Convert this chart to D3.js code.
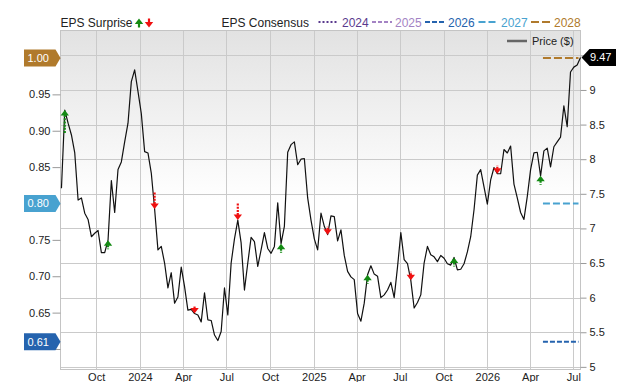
<!DOCTYPE html>
<html><head><meta charset="utf-8">
<script src="https://cdn.jsdelivr.net/npm/d3@7"></script>
<style>
body{margin:0;background:#fff;}
svg{display:block;font-family:"Liberation Sans",Arial,Helvetica,sans-serif;}
</style>
</head><body>
<svg id="chart" width="640" height="382"></svg>
<script>
// ---------- data ----------
const firstWeek = "2023-07-20";
const prices = [
 7.58, 8.71, 8.52, 8.35, 8.09, 7.41, 7.44, 7.22, 7.13, 6.88,
 6.93, 6.97, 6.65, 6.65, 6.83, 7.69, 7.23, 7.85, 7.96, 8.25,
 8.52, 9.12, 9.29, 8.98, 8.66, 8.11, 8.09, 7.80, 7.28, 6.69,
 6.74, 6.50, 6.14, 6.36, 5.92, 6.01, 6.44, 6.16, 5.82, 5.83,
 5.77, 5.75, 5.65, 6.07, 5.68, 5.67, 5.46, 5.38, 5.51, 6.14,
 5.75, 6.50, 6.85, 7.12, 6.79, 6.11, 6.50, 6.87, 6.81, 6.45,
 6.69, 6.94, 6.71, 6.64, 6.74, 7.37, 6.78, 7.03, 8.10, 8.21,
 8.25, 7.92, 8.00, 8.01, 7.44, 7.12, 6.85, 6.69, 7.22, 7.03,
 6.91, 7.18, 7.17, 6.82, 6.98, 6.61, 6.38, 6.30, 6.26, 5.77,
 5.66, 5.92, 6.33, 6.46, 6.34, 6.31, 6.00, 6.04, 6.11, 6.22,
 6.00, 6.44, 6.94, 6.55, 6.49, 6.25, 5.85, 5.93, 6.04, 6.50,
 6.74, 6.62, 6.59, 6.52, 6.61, 6.57, 6.49, 6.47, 6.58, 6.40,
 6.41, 6.49, 6.66, 6.88, 7.27, 7.77, 7.85, 7.60, 7.35, 7.70,
 7.88, 7.79, 7.79, 8.14, 8.09, 8.19, 7.64, 7.44, 7.23, 7.13,
 7.46, 7.85, 8.09, 8.10, 7.76, 8.12, 8.16, 7.89, 8.18, 8.25,
 8.32, 8.77, 8.47, 9.26, 9.33, 9.36, 9.47
];
const surpriseDates = ["2023-07-27","2023-10-26","2024-02-01","2024-04-25","2024-07-25","2024-10-24",
                       "2025-01-30","2025-04-24","2025-07-24","2025-10-23","2026-01-22","2026-04-23"];
const surpriseDir   = ["beat","beat","miss","miss","miss","beat","miss","beat","miss","beat","miss","beat"];
const surpriseSize  = [36, 7, 24, 5, 22, 7, 6, 7, 6, 7, 6, 7];

const consensusYears  = ["2024","2025","2026","2027","2028"];
const consensusColors = ["#5a3a8e","#a483c4","#2563ae","#48a2d0","#b07a2c"];
const consensusDash   = ["2,2","4,2","5,2","7,3","8,3"];
const consensusValues = [null, null, 0.61, 0.80, 1.00];
const consensusFrom   = "2026-04-28";

const priceTicks = [5, 5.5, 6, 6.5, 7, 7.5, 8, 8.5, 9, 9.5];
const priceLabels = [5, 5.5, 6, 6.5, 7, 7.5, 8, 8.5, 9];
const epsTicks   = [0.60, 0.65, 0.70, 0.75, 0.80, 0.85, 0.90, 0.95, 1.00];
const epsLabels  = [0.65, 0.70, 0.75, 0.85, 0.90, 0.95];
const lastPriceLabel = "9.47";

// ---------- layout ----------
const L = 60.5, R = 580.5, T = 30.5, B = 369.5;
const svg = d3.select("#chart");
const parse = d3.utcParse("%Y-%m-%d");
const dates = prices.map((p, i) => d3.utcDay.offset(parse(firstWeek), 7 * i));
const series = prices.map((p, i) => ({date: dates[i], price: p}));

const x = d3.scaleUtc().domain([parse("2023-07-18"), dates[dates.length - 1]]).range([L, R]);
const yP = d3.scaleLinear().domain([4.962, 9.859]).range([B, T]);
const yE = d3.scaleLinear().domain([0.5718, 1.0378]).range([B, T]);

// background gradient
const defs = svg.append("defs");
const g = defs.append("linearGradient").attr("id", "bg").attr("x1", 0).attr("x2", 0).attr("y1", 0).attr("y2", 1);
g.append("stop").attr("offset", "0%").attr("stop-color", "#e2e2e2");
g.append("stop").attr("offset", "50%").attr("stop-color", "#ffffff");
g.append("stop").attr("offset", "100%").attr("stop-color", "#ffffff");
svg.append("rect").attr("x", L).attr("y", T).attr("width", R - L).attr("height", B - T).attr("fill", "url(#bg)");

// grid
const monthTicks = x.ticks(d3.utcMonth.every(3));
svg.append("g").selectAll("line").data(priceTicks).join("line")
  .attr("x1", L).attr("x2", R).attr("y1", d => Math.round(yP(d)) + 0.5).attr("y2", d => Math.round(yP(d)) + 0.5)
  .attr("stroke", "#cacaca").attr("stroke-width", 1);
svg.append("g").selectAll("line").data(monthTicks).join("line")
  .attr("x1", d => Math.round(x(d)) + 0.5).attr("x2", d => Math.round(x(d)) + 0.5).attr("y1", T).attr("y2", B)
  .attr("stroke", "#cacaca").attr("stroke-width", 1);
svg.append("rect").attr("x", L).attr("y", T).attr("width", R - L).attr("height", B - T)
  .attr("fill", "none").attr("stroke", "#c4c4c4");

// axes
const fmtX = d => d.getUTCMonth() === 0 ? d3.utcFormat("%Y")(d) : d3.utcFormat("%b")(d);
const xAxis = svg.append("g").attr("transform", `translate(0,${B})`)
  .call(d3.axisBottom(x).tickValues(monthTicks).tickFormat(fmtX).tickSize(0).tickPadding(3.5));
const yR = svg.append("g").attr("transform", `translate(${R},0)`)
  .call(d3.axisRight(yP).tickValues(priceTicks).tickFormat(d => priceLabels.includes(d) ? d3.format("")(d) : "").tickSize(6).tickPadding(3));
const yL = svg.append("g").attr("transform", `translate(${L},0)`)
  .call(d3.axisLeft(yE).tickValues(epsTicks).tickFormat(d => epsLabels.some(v => Math.abs(v - d) < 1e-9) ? d3.format(".2f")(d) : "").tickSize(8).tickPadding(2));
[xAxis, yR, yL].forEach(a => {
  a.select(".domain").remove();
  a.selectAll("text").attr("fill", "#222").style("font-size", "11px").style("font-family", "Liberation Sans, Arial, sans-serif");
  a.selectAll(".tick line").attr("stroke", "#9a9a9a");
});

// consensus lines
consensusValues.forEach((v, k) => {
  if (v === null) return;
  svg.append("line").attr("x1", x(parse(consensusFrom))).attr("x2", R - 2)
    .attr("y1", yE(v)).attr("y2", yE(v))
    .attr("stroke", consensusColors[k]).attr("stroke-width", 2).attr("stroke-dasharray", consensusDash[k]);
});

// price line
svg.append("path").datum(series)
  .attr("d", d3.line().x(d => x(d.date)).y(d => yP(d.price)))
  .attr("fill", "none").attr("stroke", "#111").attr("stroke-width", 1.2).attr("stroke-linejoin", "round");

// surprise arrows
const bis = d3.bisector(d => d.date).center;
function arrow(gsel, cx, tipY, dir, stem, color, dash) {
  const s = dir === "beat" ? 1 : -1;      // beat: arrow points up, sits below tip
  const hh = 5.5, hw = 4.2;
  gsel.append("path")
    .attr("d", `M${cx},${tipY} L${cx - hw},${tipY + s * hh} L${cx + hw},${tipY + s * hh} Z`)
    .attr("fill", color);
  gsel.append("line").attr("x1", cx).attr("x2", cx)
    .attr("y1", tipY + s * (hh - 0.5)).attr("y2", tipY + s * (hh + stem))
    .attr("stroke", color).attr("stroke-width", 2.2).attr("stroke-dasharray", dash);
}
const ga = svg.append("g");
surpriseDates.forEach((ds, k) => {
  const d = series[bis(series, parse(ds))];
  const col = surpriseDir[k] === "beat" ? "#138a13" : "#f01010";
  arrow(ga, x(d.date), yP(d.price), surpriseDir[k], surpriseSize[k] / 2, col, "2,1.2");
});

// left value tags
function leftTag(v, color, label) {
  const c = yE(v);
  svg.append("path").attr("d", `M24,${c - 8.5} L55.5,${c - 8.5} L60.5,${c} L55.5,${c + 8.5} L24,${c + 8.5} Z`).attr("fill", color);
  svg.append("text").attr("x", 27.5).attr("y", c + 4).attr("fill", "#fff").style("font-size", "11px").text(label);
}
consensusValues.forEach((v, k) => { if (v !== null) leftTag(v, consensusColors[k], d3.format(".2f")(v)); });

// last price tag
{
  const c = yP(prices[prices.length - 1]);
  svg.append("path").attr("d", `M${R + 1},${c} L${R + 9},${c - 8.5} L616,${c - 8.5} L616,${c + 8.5} L${R + 9},${c + 8.5} Z`).attr("fill", "#000");
  svg.append("text").attr("x", 590).attr("y", c + 4).attr("fill", "#fff").style("font-size", "11px").text(lastPriceLabel);
}

// price legend inside plot
svg.append("line").attr("x1", 507).attr("x2", 527).attr("y1", 41).attr("y2", 41).attr("stroke", "#666").attr("stroke-width", 2.5);
svg.append("text").attr("x", 532).attr("y", 45).attr("fill", "#222").style("font-size", "11px").text("Price ($)");

// top legend
const lg = svg.append("g").style("font-size", "12px");
lg.append("text").attr("x", 60.5).attr("y", 26.5).attr("fill", "#222").text("EPS Surprise");
arrow(lg, 139, 18.5, "beat", 3.5, "#138a13", null);
arrow(lg, 149, 27.5, "miss", 3.5, "#f01010", null);
lg.append("text").attr("x", 221.5).attr("y", 26.5).attr("fill", "#222").text("EPS Consensus");
const legX = [[318.5, 337, 342], [372, 392, 395], [425, 445, 448], [478.5, 496, 501], [531, 551, 554]];
consensusYears.forEach((yr, k) => {
  lg.append("line").attr("x1", legX[k][0]).attr("x2", legX[k][1]).attr("y1", 22).attr("y2", 22)
    .attr("stroke", consensusColors[k]).attr("stroke-width", 2).attr("stroke-dasharray", consensusDash[k]);
  lg.append("text").attr("x", legX[k][2]).attr("y", 26.5).attr("fill", consensusColors[k]).text(yr);
});
</script>
</body></html>
